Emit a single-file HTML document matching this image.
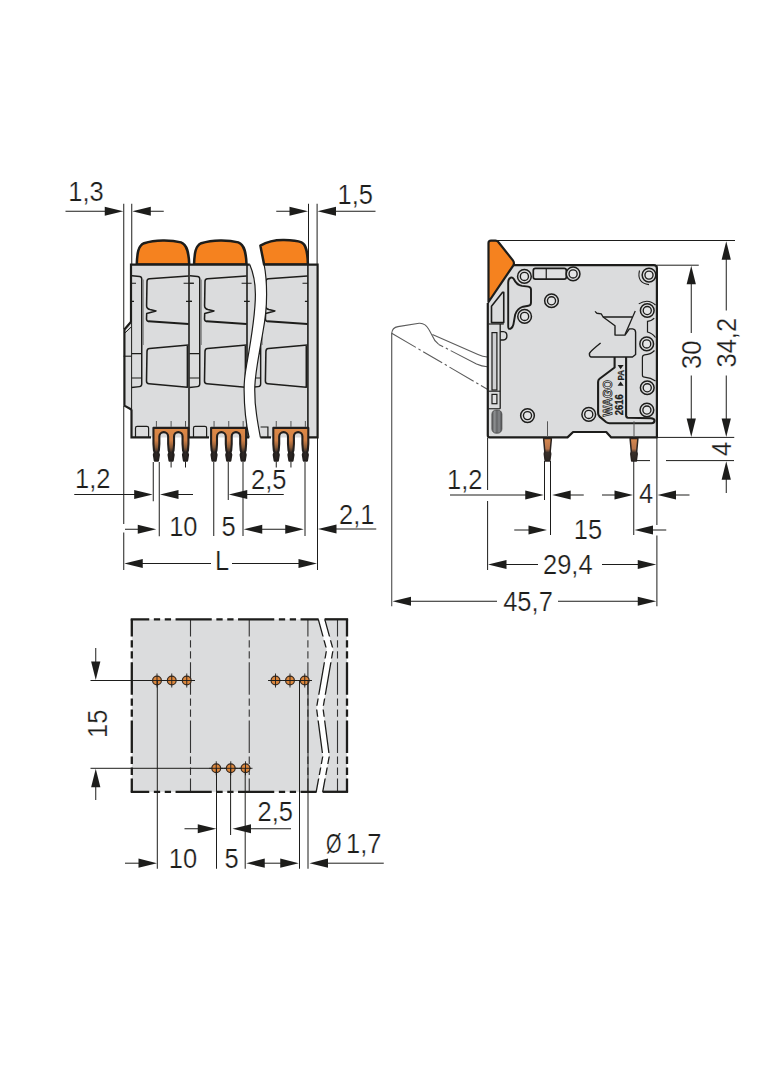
<!DOCTYPE html>
<html><head><meta charset="utf-8"><title>Dimensions</title>
<style>
html,body{margin:0;padding:0;background:#fff;}
svg{display:block;}
text{font-family:"Liberation Sans",sans-serif;fill:#1d1d1b;}
text.d{stroke:#fff;stroke-width:0.25px;}
</style></head><body>
<svg width="784" height="1066" viewBox="0 0 784 1066">
<defs>
<linearGradient id="pg" x1="0" y1="427" x2="0" y2="462" gradientUnits="userSpaceOnUse">
<stop offset="0" stop-color="#e08a46"/><stop offset="0.38" stop-color="#d08046"/><stop offset="0.58" stop-color="#8a5a36"/><stop offset="0.72" stop-color="#2e2724"/><stop offset="1" stop-color="#262220"/>
</linearGradient>
<linearGradient id="pg2" x1="0" y1="438" x2="0" y2="462" gradientUnits="userSpaceOnUse">
<stop offset="0" stop-color="#d98a50"/><stop offset="0.45" stop-color="#b8744a"/><stop offset="0.6" stop-color="#3a302a"/><stop offset="1" stop-color="#2a2522"/>
</linearGradient>
<linearGradient id="cyl" x1="491.9" y1="0" x2="501.9" y2="0" gradientUnits="userSpaceOnUse">
<stop offset="0" stop-color="#58595b"/><stop offset="0.28" stop-color="#8e9092"/><stop offset="0.5" stop-color="#636466"/><stop offset="0.72" stop-color="#85878a"/><stop offset="1" stop-color="#4a4b4d"/>
</linearGradient>
</defs>
<rect width="784" height="1066" fill="#fff"/>
<clipPath id="cl"><path d="M110,230 L249.75,230 L249.75,264.5 C253,272 255.4,284 255.4,294.5 C255.4,312 252,335 246.6,365 C244.6,376 244,384 244.1,390 C244.2,403 246,424 249.1,437.5 L249.1,470 L110,470 Z"/></clipPath>
<clipPath id="cr"><path d="M258.6,236 C259,240 259.6,243 260.4,245.75 C261.5,252 263,258 264.1,264 C265.6,272 266.6,284 266.6,294.5 C266.6,307 265,321 262.9,332 C261,343 259,354 257.25,365 C255.5,376 254.75,384 254.75,390 C254.75,400 255.3,407 256.6,415 C257.7,423 259,430 260.4,437.5 L260.4,470 L330,470 L330,230 Z"/></clipPath>
<path d="M136.75,264.6 C137.2,253 138,246 144,243.2 C155,239.7 171,239.7 181,242.4 C187.2,244.5 188.8,253 189.25,264.6 Z" stroke="#1d1d1b" stroke-width="2.5" fill="#f5821f" stroke-linejoin="round"/>
<path d="M194.05,264.6 C194.5,253 195.3,246 201.3,243.2 C212.3,239.7 228.3,239.7 238.3,242.4 C244.5,244.5 246.10000000000002,253 246.55,264.6 Z" stroke="#1d1d1b" stroke-width="2.5" fill="#f5821f" stroke-linejoin="round"/>
<path d="M264.1,264.6 C263,258 261.5,252 260.4,245.6 C268,241.2 278,239.9 284,240 C294,240.2 299,241.3 301.5,242.3 C306.3,244.3 307.6,252 307.9,264.6 Z" stroke="#1d1d1b" stroke-width="2.5" fill="#f5821f" stroke-linejoin="round"/>
<path d="M131,264.6 L249.75,264.6 C253,272 255.4,284 255.4,294.5 C255.4,312 252,335 246.6,365 C244.6,376 244,384 244.1,390 C244.2,403 246,424 249.1,437.5 L131,437.4 Z" stroke="none" stroke-width="0" fill="#dbdcdd" />
<path d="M131,322 L124.25,329.5 L124.25,405.6 L131,409.4 Z" stroke="none" stroke-width="0" fill="#dbdcdd" />
<path d="M264.1,264.5 C265.6,272 266.6,284 266.6,294.5 C266.6,307 265,321 262.9,332 C261,343 259,354 257.25,365 C255.5,376 254.75,384 254.75,390 C254.75,400 255.3,407 256.6,415 C257.7,423 259,430 260.4,437.5 L317.5,437.4 L317.5,264.6 Z" stroke="none" stroke-width="0" fill="#dbdcdd" />
<g clip-path="url(#cl)">
<line x1="189" y1="264.6" x2="189" y2="437.4" stroke="#1d1d1b" stroke-width="1.6" />
<path d="M132,275.75 L139.6,276.5 Q141.75,276.7 141.75,279 L141.75,384 Q141.75,386.3 139.5,386.6 L131.5,387.5" stroke="#1d1d1b" stroke-width="1.45" fill="none" />
<line x1="143.4" y1="279.5" x2="143.4" y2="345" stroke="#6a6a6a" stroke-width="0.7" />
<line x1="131.5" y1="353.6" x2="141.75" y2="353.6" stroke="#1d1d1b" stroke-width="1.2" />
<line x1="131.5" y1="378" x2="141.75" y2="378" stroke="#1d1d1b" stroke-width="1.2" />
<line x1="132" y1="283.3" x2="136" y2="283.3" stroke="#1d1d1b" stroke-width="1.1" />
<line x1="132" y1="301.4" x2="134" y2="301.4" stroke="#1d1d1b" stroke-width="1.1" />
<path d="M188.6,275.9 L149.5,278.7 Q147,278.9 147,281.5 L146.6,305.5 Q146.4,308.6 150,309.6 L156,310.9 L146.7,313.6 L146.5,319 Q146.5,321.2 149,321.4" stroke="#1d1d1b" stroke-width="1.55" fill="none" stroke-linejoin="round"/>
<path d="M148.5,321.3 L188.6,324" stroke="#1d1d1b" stroke-width="2.1" fill="none" />
<line x1="183.6" y1="283.3" x2="193.6" y2="283.3" stroke="#1d1d1b" stroke-width="1.1" />
<line x1="186" y1="301.4" x2="191.75" y2="301.4" stroke="#1d1d1b" stroke-width="1.1" />
<path d="M188.6,345 L149.5,348.6 Q147,348.8 147,351.5 L146.5,381 Q146.5,383.6 149,383.8 L187.4,387.25 L187.4,345.2" stroke="#1d1d1b" stroke-width="1.55" fill="none" stroke-linejoin="round"/>
<path d="M135.5,437.4 L135.5,428 Q135.5,426.3 137.2,426.3 L146.9,426.3 Q148.6,426.3 148.6,428 L148.6,437.4" stroke="#1d1d1b" stroke-width="1.2" fill="none" />
<line x1="247" y1="264.6" x2="247" y2="437.4" stroke="#1d1d1b" stroke-width="1.6" />
<path d="M190,275.75 L197.6,276.5 Q199.75,276.7 199.75,279 L199.75,384 Q199.75,386.3 197.5,386.6 L189.5,387.5" stroke="#1d1d1b" stroke-width="1.45" fill="none" />
<line x1="201.4" y1="279.5" x2="201.4" y2="345" stroke="#6a6a6a" stroke-width="0.7" />
<line x1="189.5" y1="353.6" x2="199.75" y2="353.6" stroke="#1d1d1b" stroke-width="1.2" />
<line x1="189.5" y1="378" x2="199.75" y2="378" stroke="#1d1d1b" stroke-width="1.2" />
<line x1="190" y1="283.3" x2="194" y2="283.3" stroke="#1d1d1b" stroke-width="1.1" />
<line x1="190" y1="301.4" x2="192" y2="301.4" stroke="#1d1d1b" stroke-width="1.1" />
<path d="M246.6,275.9 L207.5,278.7 Q205,278.9 205,281.5 L204.6,305.5 Q204.4,308.6 208,309.6 L214,310.9 L204.7,313.6 L204.5,319 Q204.5,321.2 207,321.4" stroke="#1d1d1b" stroke-width="1.55" fill="none" stroke-linejoin="round"/>
<path d="M206.5,321.3 L246.6,324" stroke="#1d1d1b" stroke-width="2.1" fill="none" />
<line x1="241.6" y1="283.3" x2="251.6" y2="283.3" stroke="#1d1d1b" stroke-width="1.1" />
<line x1="244" y1="301.4" x2="249.75" y2="301.4" stroke="#1d1d1b" stroke-width="1.1" />
<path d="M246.6,345 L207.5,348.6 Q205,348.8 205,351.5 L204.5,381 Q204.5,383.6 207,383.8 L245.4,387.25 L245.4,345.2" stroke="#1d1d1b" stroke-width="1.55" fill="none" stroke-linejoin="round"/>
<path d="M193.5,437.4 L193.5,428 Q193.5,426.3 195.2,426.3 L204.9,426.3 Q206.6,426.3 206.6,428 L206.6,437.4" stroke="#1d1d1b" stroke-width="1.2" fill="none" />
<path d="M153.45000000000002,427.9 L188.45,427.9 L188.45,444 L187.95,450.5 L187.25,452.4 L188.04999999999998,454.8 L187.1,460.6 L183.9,460.6 L182.95000000000002,454.8 L183.75,452.4 L183.05,450.5 L182.55,444 L182.55,436.35 A4.250000000000014,4.250000000000014 0 0 0 174.04999999999998,436.35 L174.04999999999998,444 L173.54999999999998,450.5 L172.85,452.4 L173.64999999999998,454.8 L172.7,460.6 L169.5,460.6 L168.55,454.8 L169.35,452.4 L168.65,450.5 L168.15,444 L168.15,436.5 A4.400000000000006,4.400000000000006 0 0 0 159.35,436.5 L159.35,444 L158.85,450.5 L158.15,452.4 L158.95,454.8 L158.0,460.6 L154.8,460.6 L153.85000000000002,454.8 L154.65,452.4 L153.95000000000002,450.5 L153.45000000000002,444 Z" stroke="#231f1d" stroke-width="2.1" fill="url(#pg)" stroke-linejoin="round"/>
<line x1="156.4" y1="421" x2="156.4" y2="426.9" stroke="#555" stroke-width="1" />
<line x1="171.1" y1="421" x2="171.1" y2="426.9" stroke="#555" stroke-width="1" />
<line x1="171.1" y1="461.5" x2="171.1" y2="467.5" stroke="#1d1d1b" stroke-width="1" />
<line x1="185.5" y1="421" x2="185.5" y2="426.9" stroke="#555" stroke-width="1" />
<line x1="185.5" y1="461.5" x2="185.5" y2="467.5" stroke="#1d1d1b" stroke-width="1" />
<path d="M211.10000000000002,427.9 L246.1,427.9 L246.1,444 L245.6,450.5 L244.9,452.4 L245.7,454.8 L244.75,460.6 L241.55,460.6 L240.60000000000002,454.8 L241.4,452.4 L240.70000000000002,450.5 L240.20000000000002,444 L240.20000000000002,436.35 A4.250000000000014,4.250000000000014 0 0 0 231.7,436.35 L231.7,444 L231.2,450.5 L230.5,452.4 L231.29999999999998,454.8 L230.35,460.6 L227.15,460.6 L226.20000000000002,454.8 L227.0,452.4 L226.3,450.5 L225.8,444 L225.8,436.5 A4.400000000000006,4.400000000000006 0 0 0 217.0,436.5 L217.0,444 L216.5,450.5 L215.8,452.4 L216.6,454.8 L215.65,460.6 L212.45000000000002,460.6 L211.50000000000003,454.8 L212.3,452.4 L211.60000000000002,450.5 L211.10000000000002,444 Z" stroke="#231f1d" stroke-width="2.1" fill="url(#pg)" stroke-linejoin="round"/>
<line x1="214.05" y1="421" x2="214.05" y2="426.9" stroke="#555" stroke-width="1" />
<line x1="228.75" y1="421" x2="228.75" y2="426.9" stroke="#555" stroke-width="1" />
<line x1="243.15" y1="421" x2="243.15" y2="426.9" stroke="#555" stroke-width="1" />
</g>
<g clip-path="url(#cr)">
<line x1="307.9" y1="264.6" x2="307.9" y2="437.4" stroke="#1d1d1b" stroke-width="1.6" />
<path d="M250.9,275.75 L258.5,276.5 Q260.65,276.7 260.65,279 L260.65,384 Q260.65,386.3 258.4,386.6 L250.4,387.5" stroke="#1d1d1b" stroke-width="1.45" fill="none" />
<line x1="262.3" y1="279.5" x2="262.3" y2="345" stroke="#6a6a6a" stroke-width="0.7" />
<line x1="250.4" y1="353.6" x2="260.65" y2="353.6" stroke="#1d1d1b" stroke-width="1.2" />
<line x1="250.4" y1="378" x2="260.65" y2="378" stroke="#1d1d1b" stroke-width="1.2" />
<line x1="250.9" y1="283.3" x2="254.9" y2="283.3" stroke="#1d1d1b" stroke-width="1.1" />
<line x1="250.9" y1="301.4" x2="252.9" y2="301.4" stroke="#1d1d1b" stroke-width="1.1" />
<path d="M307.5,275.9 L268.4,278.7 Q265.9,278.9 265.9,281.5 L265.5,305.5 Q265.3,308.6 268.9,309.6 L274.9,310.9 L265.6,313.6 L265.4,319 Q265.4,321.2 267.9,321.4" stroke="#1d1d1b" stroke-width="1.55" fill="none" stroke-linejoin="round"/>
<path d="M267.4,321.3 L307.5,324" stroke="#1d1d1b" stroke-width="2.1" fill="none" />
<line x1="302.5" y1="283.3" x2="307.9" y2="283.3" stroke="#1d1d1b" stroke-width="1.1" />
<line x1="304.9" y1="301.4" x2="307.9" y2="301.4" stroke="#1d1d1b" stroke-width="1.1" />
<path d="M307.5,345 L268.4,348.6 Q265.9,348.8 265.9,351.5 L265.4,381 Q265.4,383.6 267.9,383.8 L306.3,387.25 L306.3,345.2" stroke="#1d1d1b" stroke-width="1.55" fill="none" stroke-linejoin="round"/>
</g>
<path d="M260.6,427 L267.9,427 L267.9,437.4" stroke="#1d1d1b" stroke-width="1.2" fill="none" />
<path d="M273.3,427.9 L308.3,427.9 L308.3,444 L307.8,450.5 L307.1,452.4 L307.90000000000003,454.8 L306.95000000000005,460.6 L303.75,460.6 L302.8,454.8 L303.6,452.4 L302.90000000000003,450.5 L302.40000000000003,444 L302.40000000000003,436.35 A4.25,4.25 0 0 0 293.90000000000003,436.35 L293.90000000000003,444 L293.40000000000003,450.5 L292.70000000000005,452.4 L293.50000000000006,454.8 L292.55000000000007,460.6 L289.35,460.6 L288.40000000000003,454.8 L289.20000000000005,452.4 L288.50000000000006,450.5 L288.00000000000006,444 L288.00000000000006,436.50000000000006 A4.400000000000034,4.400000000000034 0 0 0 279.2,436.50000000000006 L279.2,444 L278.7,450.5 L278.0,452.4 L278.8,454.8 L277.85,460.6 L274.65,460.6 L273.7,454.8 L274.5,452.4 L273.8,450.5 L273.3,444 Z" stroke="#231f1d" stroke-width="2.1" fill="url(#pg)" stroke-linejoin="round"/>
<line x1="276.25" y1="421" x2="276.25" y2="426.9" stroke="#555" stroke-width="1" />
<line x1="276.25" y1="461.5" x2="276.25" y2="467.5" stroke="#1d1d1b" stroke-width="1" />
<line x1="290.95000000000005" y1="421" x2="290.95000000000005" y2="426.9" stroke="#555" stroke-width="1" />
<line x1="290.95000000000005" y1="461.5" x2="290.95000000000005" y2="467.5" stroke="#1d1d1b" stroke-width="1" />
<line x1="305.35" y1="421" x2="305.35" y2="426.9" stroke="#555" stroke-width="1" />
<path d="M249.75,264.5 C253,272 255.4,284 255.4,294.5 C255.4,312 252,335 246.6,365 C244.6,376 244,384 244.1,390 C244.2,403 246,424 249.1,437.5" stroke="#1d1d1b" stroke-width="1.2" fill="none" />
<path d="M264.1,264.5 C265.6,272 266.6,284 266.6,294.5 C266.6,307 265,321 262.9,332 C261,343 259,354 257.25,365 C255.5,376 254.75,384 254.75,390 C254.75,400 255.3,407 256.6,415 C257.7,423 259,430 260.4,437.5" stroke="#1d1d1b" stroke-width="1.2" fill="none" />
<path d="M130.9,322 L124.4,329.5 L124.4,405.6 L131.3,409.5" stroke="#1d1d1b" stroke-width="2.2" fill="none" stroke-linejoin="round"/>
<path d="M124.9,333 L131.2,327" stroke="#1d1d1b" stroke-width="1" fill="none" />
<line x1="123.6" y1="356.2" x2="131.3" y2="356.2" stroke="#1d1d1b" stroke-width="1.1" />
<line x1="131.6" y1="322" x2="131.6" y2="410" stroke="#1d1d1b" stroke-width="1" />
<path d="M249.75,264.6 L131,264.6 L131,322" stroke="#1d1d1b" stroke-width="2.2" fill="none" stroke-linejoin="miter"/>
<path d="M131.5,409.4 L131.5,437.4 L151,437.4" stroke="#1d1d1b" stroke-width="2.2" fill="none" />
<line x1="189" y1="437.4" x2="209" y2="437.4" stroke="#1d1d1b" stroke-width="2.2" />
<line x1="246.5" y1="437.4" x2="249.2" y2="437.4" stroke="#1d1d1b" stroke-width="2.2" />
<path d="M260.4,437.4 L271,437.4" stroke="#1d1d1b" stroke-width="2.2" fill="none" />
<path d="M309,437.4 L317.6,437.4 L317.6,264.6 L264,264.6" stroke="#1d1d1b" stroke-width="2.2" fill="none" />
<line x1="123.75" y1="203.75" x2="123.75" y2="329" stroke="#1d1d1b" stroke-width="1" />
<line x1="123.75" y1="406" x2="123.75" y2="524" stroke="#1d1d1b" stroke-width="1" />
<line x1="123.75" y1="532.5" x2="123.75" y2="570" stroke="#1d1d1b" stroke-width="1" />
<line x1="131.75" y1="203.75" x2="131.75" y2="264" stroke="#1d1d1b" stroke-width="1" />
<line x1="308.5" y1="203.75" x2="308.5" y2="264" stroke="#1d1d1b" stroke-width="1" />
<line x1="317.1" y1="203.75" x2="317.1" y2="264" stroke="#1d1d1b" stroke-width="1" />
<line x1="317.5" y1="438" x2="317.5" y2="570" stroke="#1d1d1b" stroke-width="1" />
<line x1="153.25" y1="462" x2="153.25" y2="501.25" stroke="#1d1d1b" stroke-width="1" />
<line x1="159.25" y1="462" x2="159.25" y2="536.25" stroke="#1d1d1b" stroke-width="1" />
<line x1="213.75" y1="462" x2="213.75" y2="536" stroke="#1d1d1b" stroke-width="1" />
<line x1="228.25" y1="462" x2="228.25" y2="500" stroke="#1d1d1b" stroke-width="1" />
<line x1="243" y1="462" x2="243" y2="536" stroke="#1d1d1b" stroke-width="1" />
<line x1="305" y1="462" x2="305" y2="536" stroke="#1d1d1b" stroke-width="1" />
<line x1="65.5" y1="211.25" x2="110" y2="211.25" stroke="#1d1d1b" stroke-width="1" />
<polygon points="123.25,211.25 104.75,206.65 104.75,215.85" fill="#1d1d1b"/>
<polygon points="132.3,211.25 150.8,206.65 150.8,215.85" fill="#1d1d1b"/>
<line x1="145" y1="211.25" x2="163.75" y2="211.25" stroke="#1d1d1b" stroke-width="1" />
<text font-size="27" text-anchor="start" transform="translate(68.3 201.3) scale(0.944 1)" class="d" >1,3</text>
<line x1="276.25" y1="211.25" x2="295" y2="211.25" stroke="#1d1d1b" stroke-width="1" />
<polygon points="308,211.25 289.5,206.65 289.5,215.85" fill="#1d1d1b"/>
<polygon points="317.5,211.25 336.0,206.65 336.0,215.85" fill="#1d1d1b"/>
<line x1="330" y1="211.25" x2="375.5" y2="211.25" stroke="#1d1d1b" stroke-width="1" />
<text font-size="27" text-anchor="start" transform="translate(337.5 203.5) scale(0.944 1)" class="d" >1,5</text>
<line x1="74.25" y1="494.5" x2="140" y2="494.5" stroke="#1d1d1b" stroke-width="1" />
<polygon points="152.7,494.5 134.2,489.9 134.2,499.1" fill="#1d1d1b"/>
<polygon points="160,494.5 178.5,489.9 178.5,499.1" fill="#1d1d1b"/>
<line x1="175" y1="494.5" x2="193" y2="494.5" stroke="#1d1d1b" stroke-width="1" />
<text font-size="27" text-anchor="start" transform="translate(75 487.5) scale(0.944 1)" class="d" >1,2</text>
<polygon points="228.75,494.5 247.25,489.9 247.25,499.1" fill="#1d1d1b"/>
<line x1="240" y1="494.5" x2="283.75" y2="494.5" stroke="#1d1d1b" stroke-width="1" />
<text font-size="27" text-anchor="start" transform="translate(251 488.7) scale(0.944 1)" class="d" >2,5</text>
<line x1="125" y1="529.25" x2="140" y2="529.25" stroke="#1d1d1b" stroke-width="1" />
<polygon points="156.25,529.25 137.75,524.65 137.75,533.85" fill="#1d1d1b"/>
<text font-size="27" text-anchor="start" transform="translate(169.2 536.3) scale(0.944 1)" class="d" >10</text>
<text font-size="27" text-anchor="start" transform="translate(221.5 536.3) scale(0.944 1)" class="d" >5</text>
<polygon points="243.75,529.25 262.25,524.65 262.25,533.85" fill="#1d1d1b"/>
<polygon points="303.75,529.25 285.25,524.65 285.25,533.85" fill="#1d1d1b"/>
<line x1="255" y1="529.25" x2="290" y2="529.25" stroke="#1d1d1b" stroke-width="1" />
<polygon points="318,529 336.5,524.4 336.5,533.6" fill="#1d1d1b"/>
<line x1="330" y1="529" x2="376.25" y2="529" stroke="#1d1d1b" stroke-width="1" />
<text font-size="27" text-anchor="start" transform="translate(339 523.8) scale(0.944 1)" class="d" >2,1</text>
<polygon points="124.25,563.5 142.75,558.9 142.75,568.1" fill="#1d1d1b"/>
<line x1="138" y1="563.5" x2="211" y2="563.5" stroke="#1d1d1b" stroke-width="1" />
<text font-size="27" text-anchor="start" transform="translate(215 569.5) scale(0.944 1)" class="d" >L</text>
<line x1="232" y1="563.5" x2="300" y2="563.5" stroke="#1d1d1b" stroke-width="1" />
<polygon points="317,563.5 298.5,558.9 298.5,568.1" fill="#1d1d1b"/>
<path d="M391.7,333.2 C392,329.5 394.5,327.2 398,326.6 L419.1,323.3 C424.5,322.9 427.3,326.5 428.9,329.6 L432.4,336 C433.5,339 435,341.5 438.7,344.4" stroke="#5c5c5c" stroke-width="1.1" fill="none" />
<path d="M432.4,334.6 L478,354.4 C481.5,355.9 484,356.6 487.3,357" stroke="#5c5c5c" stroke-width="1.1" fill="none" />
<path d="M438.7,344.4 L476.5,364 C480.5,365.8 483.5,366.5 487.3,366.8" stroke="#5c5c5c" stroke-width="1.1" fill="none" stroke-dasharray="5 3 2.5 3 60"/>
<path d="M391.7,333.2 L487.3,389.3" stroke="#5c5c5c" stroke-width="1.1" fill="none" stroke-dasharray="28 3 2.5 3 22 3 2.5 3"/>
<line x1="391.75" y1="333.2" x2="391.75" y2="606.25" stroke="#3a3a3a" stroke-width="1" />
<path d="M488.5,302 L513.6,265.2 L653.9,265.2 Q656.9,265.2 656.9,268.2 L656.9,437.4 L611.25,437.4 L606.25,432 L573.1,432 L567.5,437.4 L489.7,437.4 Q487.8,437.4 487.8,435.5 L487.8,303 Z" stroke="none" stroke-width="0" fill="#dbdcdd" />
<line x1="497.5" y1="240.5" x2="735" y2="240.5" stroke="#1d1d1b" stroke-width="1" />
<line x1="656.9" y1="265.2" x2="698.75" y2="265.2" stroke="#1d1d1b" stroke-width="1" />
<line x1="656.9" y1="437.4" x2="734.25" y2="437.4" stroke="#1d1d1b" stroke-width="1" />
<rect x="533.3" y="268.4" width="33" height="10.8" rx="2.2" fill="#e0e1e2" stroke="#1d1d1b" stroke-width="1.7"/>
<line x1="546.25" y1="268.4" x2="546.25" y2="279.2" stroke="#1d1d1b" stroke-width="1.2" />
<path d="M508.2,282.5 Q508.2,279 510.6,277.6 Q512.5,277 513.8,279 Q516.5,285 522,285.9 L528.3,286.6 Q531,287 531,289.6 L531,302.5 Q531,305.4 528.4,305.8 L523,306.7 Q517.5,308.2 515.2,314.5 L513.4,324.5 Q512.8,327.6 510.4,328.8 Q508.2,329.4 508.2,326.5 Z" stroke="#1d1d1b" stroke-width="1.9" fill="none" stroke-linejoin="round"/>
<path d="M503.75,292.2 L503.75,322.6 L491.5,322.6 L491.5,306.3 L502.6,292.2 Z" stroke="#1d1d1b" stroke-width="1.6" fill="none" stroke-linejoin="round"/>
<line x1="488.5" y1="324" x2="503.75" y2="324" stroke="#1d1d1b" stroke-width="1.2" />
<line x1="500.2" y1="324" x2="500.2" y2="408.75" stroke="#1d1d1b" stroke-width="1.3" />
<rect x="492" y="332.6" width="4.9" height="57.4" fill="#cfd0d2" stroke="#1d1d1b" stroke-width="1.2"/>
<rect x="492" y="394.4" width="4.9" height="9.3" fill="#e0e1e2" stroke="#1d1d1b" stroke-width="1.2"/>
<line x1="488.5" y1="391.2" x2="500.2" y2="391.2" stroke="#1d1d1b" stroke-width="1.1" />
<line x1="488.5" y1="408.75" x2="500.2" y2="408.75" stroke="#1d1d1b" stroke-width="1.1" />
<path d="M500.2,331.6 L503.4,331.6 Q506.9,331.8 506.9,335.8 Q506.9,339.9 503.4,340 L500.2,340" stroke="#1d1d1b" stroke-width="1.4" fill="none" />
<rect x="491.9" y="410" width="10" height="23.2" rx="4.2" fill="url(#cyl)" stroke="#4a4a4a" stroke-width="0.8"/>
<circle cx="524.4" cy="276.4" r="6.85" fill="#dbdcdd" stroke="#1d1d1b" stroke-width="1.5"/>
<circle cx="524.4" cy="276.4" r="4.05" fill="#e4e5e6" stroke="#1d1d1b" stroke-width="1.35"/>
<circle cx="573.1" cy="273.9" r="6.85" fill="#dbdcdd" stroke="#1d1d1b" stroke-width="1.5"/>
<circle cx="573.1" cy="273.9" r="4.05" fill="#e4e5e6" stroke="#1d1d1b" stroke-width="1.35"/>
<circle cx="551.5" cy="300.75" r="6.85" fill="#dbdcdd" stroke="#1d1d1b" stroke-width="1.5"/>
<circle cx="551.5" cy="300.75" r="4.05" fill="#e4e5e6" stroke="#1d1d1b" stroke-width="1.35"/>
<circle cx="524.6" cy="316.4" r="6.85" fill="#dbdcdd" stroke="#1d1d1b" stroke-width="1.5"/>
<circle cx="524.6" cy="316.4" r="4.05" fill="#e4e5e6" stroke="#1d1d1b" stroke-width="1.35"/>
<circle cx="649" cy="275.1" r="6.85" fill="#dbdcdd" stroke="#1d1d1b" stroke-width="1.5"/>
<circle cx="649" cy="275.1" r="4.05" fill="#e4e5e6" stroke="#1d1d1b" stroke-width="1.35"/>
<circle cx="647.25" cy="310.5" r="6.85" fill="#dbdcdd" stroke="#1d1d1b" stroke-width="1.5"/>
<circle cx="647.25" cy="310.5" r="4.05" fill="#e4e5e6" stroke="#1d1d1b" stroke-width="1.35"/>
<circle cx="646.7" cy="343.9" r="6.85" fill="#dbdcdd" stroke="#1d1d1b" stroke-width="1.5"/>
<circle cx="646.7" cy="343.9" r="4.05" fill="#e4e5e6" stroke="#1d1d1b" stroke-width="1.35"/>
<circle cx="647.25" cy="387.75" r="6.85" fill="#dbdcdd" stroke="#1d1d1b" stroke-width="1.5"/>
<circle cx="647.25" cy="387.75" r="4.05" fill="#e4e5e6" stroke="#1d1d1b" stroke-width="1.35"/>
<circle cx="646.9" cy="410" r="6.85" fill="#dbdcdd" stroke="#1d1d1b" stroke-width="1.5"/>
<circle cx="646.9" cy="410" r="4.05" fill="#e4e5e6" stroke="#1d1d1b" stroke-width="1.35"/>
<circle cx="588.75" cy="414.4" r="6.85" fill="#dbdcdd" stroke="#1d1d1b" stroke-width="1.5"/>
<circle cx="588.75" cy="414.4" r="4.05" fill="#e4e5e6" stroke="#1d1d1b" stroke-width="1.35"/>
<circle cx="527.5" cy="415.6" r="6.85" fill="#dbdcdd" stroke="#1d1d1b" stroke-width="1.5"/>
<circle cx="527.5" cy="415.6" r="4.05" fill="#e4e5e6" stroke="#1d1d1b" stroke-width="1.35"/>
<path d="M639.5,270.5 Q636.5,283 649,284.6" stroke="#1d1d1b" stroke-width="1.1" fill="none" />
<path d="M638.75,303.9 Q648,298 655.5,305" stroke="#1d1d1b" stroke-width="1.1" fill="none" />
<path d="M654.2,318.2 Q652,321 647.5,321.4 L647.5,332 Q652,333 655.5,337.5" stroke="#1d1d1b" stroke-width="1.2" fill="none" />
<path d="M654.5,350.5 Q651,354.5 644.5,354.8 Q642.4,355.2 642.4,357.5 L642.4,375 Q642.4,377 644.5,377.2 Q651,377.8 655.5,381" stroke="#1d1d1b" stroke-width="1.2" fill="none" />
<path d="M595,311.4 L596.9,313.25 L601.25,313.9 L603.1,317 L632.5,317" stroke="#1d1d1b" stroke-width="1.3" fill="none" stroke-linejoin="round"/>
<path d="M635.25,311 L625,334.5" stroke="#1d1d1b" stroke-width="1.3" fill="none" />
<path d="M603.1,317 L615,325.75 L615,335.1 L625,335.1 L629.4,328.9 L632.6,328.9 Q635.6,329.2 635.6,332.2 L635.6,354.5 L632.5,357 L591.5,357 Q589.2,356.8 589.4,353.5 Q590,351.5 600.6,343" stroke="#1d1d1b" stroke-width="1.4" fill="none" stroke-linejoin="round"/>
<path d="M614.6,357 L614.6,367.5 L599.6,378.75 Q598.1,380 598.1,382 L598.1,413 Q598.1,415.3 599.6,416.6 L606,422 Q607.5,423.2 609.5,423.2 L651.5,423.2 Q654.6,423 654.5,420.5 Q654.3,418.5 651,418.3 L628,417.7 Q626.1,417.5 626.1,415.5 L626.1,357" stroke="#1d1d1b" stroke-width="2.1" fill="none" stroke-linejoin="round"/>
<text x="612" y="416.5" font-size="12.5" font-weight="bold" transform="rotate(-90 612 416.5)" textLength="36.5" lengthAdjust="spacingAndGlyphs" style="fill:#e6e7e8;stroke:#1d1d1b;stroke-width:0.8">WAGO</text>
<text x="623" y="415.3" font-size="10.3" font-weight="bold" transform="rotate(-90 623 415.3)" textLength="21" lengthAdjust="spacingAndGlyphs" style="stroke:#1d1d1b;stroke-width:0.3">2616</text>
<text x="623.8" y="380.5" font-size="8.8" font-weight="bold" transform="rotate(-90 623.8 380.5)" textLength="10.5" lengthAdjust="spacingAndGlyphs" style="stroke:#1d1d1b;stroke-width:0.25">PA</text>
<polygon points="617.6,385.8 623.6,385.8 620.6,381.6" fill="#1d1d1b"/>
<polygon points="617.6,365 623.6,365 620.6,369.2" fill="#1d1d1b"/>
<path d="M513.6,265.2 L653.9,265.2 Q656.9,265.2 656.9,268.2 L656.9,437.4 L611.25,437.4 L606.25,432 L573.1,432 L567.5,437.4 L489.7,437.4 Q487.8,437.4 487.8,435.5 L487.8,303" stroke="#1d1d1b" stroke-width="2.2" fill="none" stroke-linejoin="round"/>
<path d="M488.5,302 L488.5,243 Q488.5,240.6 491,240.6 L495.5,240.6 Q497.3,240.6 498.5,242.2 L512.9,260.4 Q514.8,263 513.2,265.6 Z" stroke="#1d1d1b" stroke-width="2.2" fill="#f5821f" stroke-linejoin="round"/>
<line x1="547.5" y1="421.3" x2="547.5" y2="437" stroke="#555" stroke-width="1" />
<path d="M543.6,438.4 L551.4,438.4 L550.2,451.5 L550.7,454 L549.8,461 L545.2,461 L544.3,454 L544.8,451.5 Z" stroke="#2a2320" stroke-width="1.5" fill="url(#pg2)" stroke-linejoin="round"/>
<line x1="634" y1="421.3" x2="634" y2="437" stroke="#555" stroke-width="1" />
<path d="M630.1,438.4 L637.9,438.4 L636.7,451.5 L637.2,454 L636.3,461 L631.7,461 L630.8,454 L631.3,451.5 Z" stroke="#2a2320" stroke-width="1.5" fill="url(#pg2)" stroke-linejoin="round"/>
<line x1="487.6" y1="438" x2="487.6" y2="490" stroke="#1d1d1b" stroke-width="1" />
<line x1="487.6" y1="501" x2="487.6" y2="570" stroke="#1d1d1b" stroke-width="1" />
<line x1="544.5" y1="461" x2="544.5" y2="500" stroke="#1d1d1b" stroke-width="1" />
<line x1="550.5" y1="461" x2="550.5" y2="535" stroke="#1d1d1b" stroke-width="1" />
<line x1="633.75" y1="461" x2="633.75" y2="535" stroke="#1d1d1b" stroke-width="1" />
<line x1="656.9" y1="438" x2="656.9" y2="525" stroke="#1d1d1b" stroke-width="1" />
<line x1="656.9" y1="535.5" x2="656.9" y2="606.25" stroke="#1d1d1b" stroke-width="1" />
<line x1="636" y1="460.6" x2="650" y2="460.6" stroke="#1d1d1b" stroke-width="1" />
<line x1="666" y1="460.6" x2="734" y2="460.6" stroke="#1d1d1b" stroke-width="1" />
<line x1="450" y1="495" x2="530" y2="495" stroke="#1d1d1b" stroke-width="1" />
<polygon points="543.75,495 525.25,490.4 525.25,499.6" fill="#1d1d1b"/>
<text font-size="27" text-anchor="start" transform="translate(447 489.3) scale(0.944 1)" class="d" >1,2</text>
<polygon points="552.2,495 570.7,490.4 570.7,499.6" fill="#1d1d1b"/>
<line x1="565" y1="495" x2="583.75" y2="495" stroke="#1d1d1b" stroke-width="1" />
<line x1="602" y1="495" x2="620" y2="495" stroke="#1d1d1b" stroke-width="1" />
<polygon points="633,495 614.5,490.4 614.5,499.6" fill="#1d1d1b"/>
<text font-size="27" text-anchor="start" transform="translate(639 503) scale(0.944 1)" class="d" >4</text>
<polygon points="657.5,495 676.0,490.4 676.0,499.6" fill="#1d1d1b"/>
<line x1="670" y1="495" x2="689.5" y2="495" stroke="#1d1d1b" stroke-width="1" />
<line x1="514.25" y1="530" x2="535" y2="530" stroke="#1d1d1b" stroke-width="1" />
<polygon points="547,530 528.5,525.4 528.5,534.6" fill="#1d1d1b"/>
<text font-size="27" text-anchor="start" transform="translate(573.8 538.8) scale(0.944 1)" class="d" >15</text>
<polygon points="634.5,530 653.0,525.4 653.0,534.6" fill="#1d1d1b"/>
<line x1="648" y1="530" x2="666.25" y2="530" stroke="#1d1d1b" stroke-width="1" />
<polygon points="488,564.5 506.5,559.9 506.5,569.1" fill="#1d1d1b"/>
<line x1="500" y1="564.5" x2="538" y2="564.5" stroke="#1d1d1b" stroke-width="1" />
<text font-size="27" text-anchor="start" transform="translate(543 573.8) scale(0.944 1)" class="d" >29,4</text>
<line x1="602" y1="564.5" x2="645" y2="564.5" stroke="#1d1d1b" stroke-width="1" />
<polygon points="656.25,564.5 637.75,559.9 637.75,569.1" fill="#1d1d1b"/>
<polygon points="392.5,601.25 411.0,596.65 411.0,605.85" fill="#1d1d1b"/>
<line x1="405" y1="601.25" x2="497" y2="601.25" stroke="#1d1d1b" stroke-width="1" />
<text font-size="27" text-anchor="start" transform="translate(503.2 611.3) scale(0.944 1)" class="d" >45,7</text>
<line x1="558" y1="601.25" x2="645" y2="601.25" stroke="#1d1d1b" stroke-width="1" />
<polygon points="656.25,601.25 637.75,596.65 637.75,605.85" fill="#1d1d1b"/>
<polygon points="691.25,265.75 686.65,284.25 695.85,284.25" fill="#1d1d1b"/>
<line x1="691.25" y1="280" x2="691.25" y2="333" stroke="#1d1d1b" stroke-width="1" />
<line x1="691.25" y1="375.5" x2="691.25" y2="425" stroke="#1d1d1b" stroke-width="1" />
<polygon points="691.25,437 686.65,418.5 695.85,418.5" fill="#1d1d1b"/>
<text font-size="27" text-anchor="start" transform="translate(700.5 369) rotate(-90) scale(0.944 1)" class="d" >30</text>
<polygon points="726.25,241.25 721.65,259.75 730.85,259.75" fill="#1d1d1b"/>
<line x1="726.25" y1="255" x2="726.25" y2="310.5" stroke="#1d1d1b" stroke-width="1" />
<line x1="726.25" y1="375.5" x2="726.25" y2="425" stroke="#1d1d1b" stroke-width="1" />
<polygon points="726.25,437 721.65,418.5 730.85,418.5" fill="#1d1d1b"/>
<text font-size="27" text-anchor="start" transform="translate(735.5 367.5) rotate(-90) scale(0.944 1)" class="d" >34,2</text>
<text font-size="27" text-anchor="start" transform="translate(731.3 456) rotate(-90) scale(0.944 1)" class="d" >4</text>
<polygon points="726.25,461.25 721.65,479.75 730.85,479.75" fill="#1d1d1b"/>
<line x1="726.25" y1="475" x2="726.25" y2="493" stroke="#1d1d1b" stroke-width="1" />
<rect x="131.8" y="619.3" width="215.2" height="172.5" fill="#dbdcdd"/>
<polygon points="318.3,619.3 326.6,649.5 316.5,708 322.8,756 316.2,791.8 322.7,791.8 329.3,756 323.0,708 333.1,649.5 324.8,619.3" fill="#fff"/>
<clipPath id="vs"><rect x="300" y="604.00" width="50" height="32.6"/><rect x="300" y="640.20" width="50" height="7.4"/><rect x="300" y="651.20" width="50" height="7.4"/><rect x="300" y="662.20" width="50" height="32.6"/><rect x="300" y="698.40" width="50" height="7.4"/><rect x="300" y="709.40" width="50" height="7.4"/><rect x="300" y="720.40" width="50" height="32.6"/><rect x="300" y="756.60" width="50" height="7.4"/><rect x="300" y="767.60" width="50" height="7.4"/><rect x="300" y="778.60" width="50" height="32.6"/></clipPath>
<line x1="190.5" y1="619.3" x2="190.5" y2="791.8" stroke="#333" stroke-width="1.1" stroke-dasharray="32.6 3.6 7.4 3.6 7.4 3.6" stroke-dashoffset="15.3"/>
<line x1="249.25" y1="619.3" x2="249.25" y2="791.8" stroke="#333" stroke-width="1.1" stroke-dasharray="32.6 3.6 7.4 3.6 7.4 3.6" stroke-dashoffset="15.3"/>
<line x1="307.9" y1="619.3" x2="307.9" y2="791.8" stroke="#333" stroke-width="1.1" stroke-dasharray="32.6 3.6 7.4 3.6 7.4 3.6" stroke-dashoffset="15.3"/>
<line x1="337.5" y1="619.3" x2="337.5" y2="791.8" stroke="#333" stroke-width="1.1" stroke-dasharray="32.6 3.6 7.4 3.6 7.4 3.6" stroke-dashoffset="15.3"/>
<g clip-path="url(#vs)">
<path d="M318.3,619.3 L326.6,649.5 L316.5,708 L322.8,756 L316.2,791.8" stroke="#1d1d1b" stroke-width="1.3" fill="none" />
<path d="M324.8,619.3 L333.1,649.5 L323.0,708 L329.3,756 L322.7,791.8" stroke="#1d1d1b" stroke-width="1.3" fill="none" />
</g>
<line x1="130.70000000000002" y1="619.3" x2="318.6" y2="619.3" stroke="#1d1d1b" stroke-width="2.3" stroke-dasharray="36.2 4.6 6.3 4.6 6.3 4.5" stroke-dashoffset="17.65"/>
<line x1="324.6" y1="619.3" x2="348.1" y2="619.3" stroke="#1d1d1b" stroke-width="2.3" />
<line x1="130.70000000000002" y1="791.8" x2="316.6" y2="791.8" stroke="#1d1d1b" stroke-width="2.3" stroke-dasharray="36.2 4.6 6.3 4.6 6.3 4.5" stroke-dashoffset="17.65"/>
<line x1="322.6" y1="791.8" x2="348.1" y2="791.8" stroke="#1d1d1b" stroke-width="2.3" />
<line x1="131.8" y1="619.3" x2="131.8" y2="791.8" stroke="#1d1d1b" stroke-width="2.3" stroke-dasharray="32.6 3.6 7.4 3.6 7.4 3.6" stroke-dashoffset="15.3"/>
<line x1="347" y1="619.3" x2="347" y2="791.8" stroke="#1d1d1b" stroke-width="2.3" stroke-dasharray="32.6 3.6 7.4 3.6 7.4 3.6" stroke-dashoffset="15.3"/>
<line x1="90.5" y1="680.5" x2="195" y2="680.5" stroke="#1d1d1b" stroke-width="1" />
<line x1="90.5" y1="768.3" x2="251" y2="768.3" stroke="#1d1d1b" stroke-width="1" />
<circle cx="157" cy="680.5" r="4.4" fill="#dd873c" stroke="#3a2a1e" stroke-width="1.2"/>
<line x1="150" y1="680.5" x2="164" y2="680.5" stroke="#1d1d1b" stroke-width="0.9" />
<line x1="157" y1="673.5" x2="157" y2="687.5" stroke="#1d1d1b" stroke-width="0.9" />
<circle cx="171.75" cy="680.5" r="4.4" fill="#dd873c" stroke="#3a2a1e" stroke-width="1.2"/>
<line x1="164.75" y1="680.5" x2="178.75" y2="680.5" stroke="#1d1d1b" stroke-width="0.9" />
<line x1="171.75" y1="673.5" x2="171.75" y2="687.5" stroke="#1d1d1b" stroke-width="0.9" />
<circle cx="186.75" cy="680.5" r="4.4" fill="#dd873c" stroke="#3a2a1e" stroke-width="1.2"/>
<line x1="179.75" y1="680.5" x2="193.75" y2="680.5" stroke="#1d1d1b" stroke-width="0.9" />
<line x1="186.75" y1="673.5" x2="186.75" y2="687.5" stroke="#1d1d1b" stroke-width="0.9" />
<circle cx="275.5" cy="680.5" r="4.4" fill="#dd873c" stroke="#3a2a1e" stroke-width="1.2"/>
<line x1="268.5" y1="680.5" x2="282.5" y2="680.5" stroke="#1d1d1b" stroke-width="0.9" />
<line x1="275.5" y1="673.5" x2="275.5" y2="687.5" stroke="#1d1d1b" stroke-width="0.9" />
<circle cx="290" cy="680.5" r="4.4" fill="#dd873c" stroke="#3a2a1e" stroke-width="1.2"/>
<line x1="283" y1="680.5" x2="297" y2="680.5" stroke="#1d1d1b" stroke-width="0.9" />
<line x1="290" y1="673.5" x2="290" y2="687.5" stroke="#1d1d1b" stroke-width="0.9" />
<circle cx="304.75" cy="680.5" r="4.4" fill="#dd873c" stroke="#3a2a1e" stroke-width="1.2"/>
<line x1="297.75" y1="680.5" x2="311.75" y2="680.5" stroke="#1d1d1b" stroke-width="0.9" />
<line x1="304.75" y1="673.5" x2="304.75" y2="687.5" stroke="#1d1d1b" stroke-width="0.9" />
<circle cx="216.25" cy="768.3" r="4.4" fill="#dd873c" stroke="#3a2a1e" stroke-width="1.2"/>
<line x1="209.25" y1="768.3" x2="223.25" y2="768.3" stroke="#1d1d1b" stroke-width="0.9" />
<line x1="216.25" y1="761.3" x2="216.25" y2="775.3" stroke="#1d1d1b" stroke-width="0.9" />
<circle cx="230.75" cy="768.3" r="4.4" fill="#dd873c" stroke="#3a2a1e" stroke-width="1.2"/>
<line x1="223.75" y1="768.3" x2="237.75" y2="768.3" stroke="#1d1d1b" stroke-width="0.9" />
<line x1="230.75" y1="761.3" x2="230.75" y2="775.3" stroke="#1d1d1b" stroke-width="0.9" />
<circle cx="245.5" cy="768.3" r="4.4" fill="#dd873c" stroke="#3a2a1e" stroke-width="1.2"/>
<line x1="238.5" y1="768.3" x2="252.5" y2="768.3" stroke="#1d1d1b" stroke-width="0.9" />
<line x1="245.5" y1="761.3" x2="245.5" y2="775.3" stroke="#1d1d1b" stroke-width="0.9" />
<line x1="268" y1="680.5" x2="312" y2="680.5" stroke="#1d1d1b" stroke-width="0.9" />
<line x1="157.3" y1="680.5" x2="157.3" y2="868.75" stroke="#1d1d1b" stroke-width="1" />
<line x1="216.5" y1="768.3" x2="216.5" y2="868.75" stroke="#1d1d1b" stroke-width="1" />
<line x1="230.6" y1="768.3" x2="230.6" y2="835" stroke="#1d1d1b" stroke-width="1" />
<line x1="245.2" y1="768.3" x2="245.2" y2="868.75" stroke="#1d1d1b" stroke-width="1" />
<line x1="299.5" y1="680.5" x2="299.5" y2="868.75" stroke="#1d1d1b" stroke-width="1" />
<line x1="308" y1="680.5" x2="308" y2="868.75" stroke="#1d1d1b" stroke-width="1" />
<line x1="95.75" y1="648" x2="95.75" y2="665" stroke="#1d1d1b" stroke-width="1" />
<polygon points="95.75,680 91.15,661.5 100.35,661.5" fill="#1d1d1b"/>
<polygon points="95.75,768.8 91.15,787.3 100.35,787.3" fill="#1d1d1b"/>
<line x1="95.75" y1="785" x2="95.75" y2="800" stroke="#1d1d1b" stroke-width="1" />
<text font-size="27" text-anchor="start" transform="translate(107.3 738) rotate(-90) scale(0.944 1)" class="d" >15</text>
<line x1="184.5" y1="828.75" x2="200" y2="828.75" stroke="#1d1d1b" stroke-width="1" />
<polygon points="216.25,828.75 197.75,824.15 197.75,833.35" fill="#1d1d1b"/>
<polygon points="232.5,828.75 251.0,824.15 251.0,833.35" fill="#1d1d1b"/>
<line x1="245" y1="828.75" x2="291" y2="828.75" stroke="#1d1d1b" stroke-width="1" />
<text font-size="27" text-anchor="start" transform="translate(257.5 821.3) scale(0.944 1)" class="d" >2,5</text>
<line x1="125" y1="863.2" x2="140" y2="863.2" stroke="#1d1d1b" stroke-width="1" />
<polygon points="157,863.2 138.5,858.6 138.5,867.8000000000001" fill="#1d1d1b"/>
<text font-size="27" text-anchor="start" transform="translate(168.8 868.3) scale(0.944 1)" class="d" >10</text>
<text font-size="27" text-anchor="start" transform="translate(224.5 868.3) scale(0.944 1)" class="d" >5</text>
<polygon points="246.25,863.2 264.75,858.6 264.75,867.8000000000001" fill="#1d1d1b"/>
<polygon points="298.75,863.2 280.25,858.6 280.25,867.8000000000001" fill="#1d1d1b"/>
<line x1="258" y1="863.2" x2="285" y2="863.2" stroke="#1d1d1b" stroke-width="1" />
<polygon points="309.5,863.2 328.0,858.6 328.0,867.8000000000001" fill="#1d1d1b"/>
<line x1="322" y1="863.2" x2="383.75" y2="863.2" stroke="#1d1d1b" stroke-width="1" />
<text font-size="27" text-anchor="start" transform="translate(326 852.5) scale(0.74 1)" class="d" >Ø</text>
<text font-size="27" text-anchor="start" transform="translate(346 852.5) scale(0.944 1)" class="d" >1,7</text>
</svg>
</body></html>
